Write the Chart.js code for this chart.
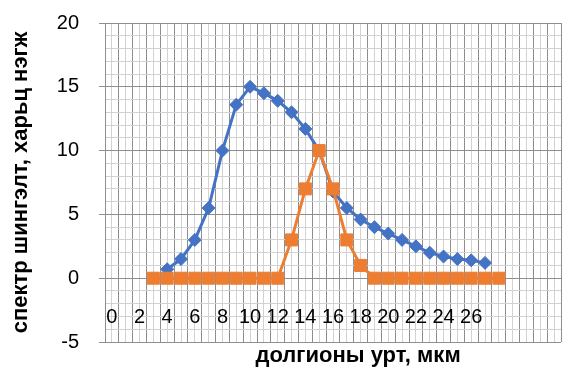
<!DOCTYPE html>
<html>
<head>
<meta charset="utf-8">
<script src="https://cdn.jsdelivr.net/npm/chart.js@4"></script>
<style>
  html, body { margin: 0; padding: 0; background: #fff; }
</style>
</head>
<body>
<canvas id="chart" width="562" height="368"></canvas>
<script>
// wavelength positions (category index) and values
const blueX = [4, 5, 6, 7, 8, 9, 10, 11, 12, 13, 14, 15, 16, 17, 18, 19, 20, 21, 22, 23, 24, 25, 26, 27];
const blueY = [0.7, 1.5, 3.0, 5.5, 10.0, 13.6, 15.0, 14.5, 13.9, 13.0, 11.7, 10.0, 6.8, 5.5, 4.6, 4.0, 3.5, 3.0, 2.5, 2.0, 1.7, 1.5, 1.4, 1.2];

const orangeX = [3, 4, 5, 6, 7, 8, 9, 10, 11, 12, 13, 14, 15, 16, 17, 18, 19, 20, 21, 22, 23, 24, 25, 26, 27, 28];
const orangeY = [0, 0, 0, 0, 0, 0, 0, 0, 0, 0, 3, 7, 10, 7, 3, 1, 0, 0, 0, 0, 0, 0, 0, 0, 0, 0];

const xTickLabels = ['0', '2', '4', '6', '8', '10', '12', '14', '16', '18', '20', '22', '24', '26'];
const yTickLabels = ['-5', '0', '5', '10', '15', '20'];

const xTitle = 'долгионы урт, мкм';
const yTitle = 'спектр шингэлт, харьц нэгж';

const FONT = "'Liberation Sans', Arial, sans-serif";
const DARK = '#8e8e8e';
const LIGHT = '#d2d2d2';

function toPoints(xs, ys) {
    return xs.map((x, i) => ({ x: x, y: ys[i] }));
}

// the x axis floats at y=0, but its label widths still eat room on the right;
// stretch the plot back out to the canvas edge
const stretchPlot = {
    id: 'stretchPlot',
    afterLayout(chart) {
        const right = chart.width - 1;
        const area = chart.chartArea;
        area.right = right;
        area.width = right - area.left;
        const x = chart.scales.x;
        x.right = right;
        x.width = right - x.left;
        x.configure();
    }
};

// x title sits under the plot, drawn by hand
const xTitlePlugin = {
    id: 'xTitle',
    afterDraw(chart) {
        const ctx = chart.ctx;
        const area = chart.chartArea;
        ctx.save();
        ctx.font = "bold 22px " + FONT;
        ctx.fillStyle = '#000';
        ctx.textAlign = 'center';
        ctx.textBaseline = 'middle';
        ctx.fillText(xTitle, area.left + (area.right - area.left) * 0.555, chart.height - 12);
        ctx.restore();
    }
};

new Chart(document.getElementById('chart'), {
    type: 'line',
    data: {
        datasets: [
            {
                data: toPoints(orangeX, orangeY),
                borderColor: '#ED7D31',
                backgroundColor: '#ED7D31',
                borderWidth: 3,
                pointStyle: 'rect',
                pointRadius: 8.5,
                pointBorderWidth: 1,
                tension: 0,
                order: 1
            },
            {
                data: toPoints(blueX, blueY),
                borderColor: '#4472C4',
                backgroundColor: '#4472C4',
                borderWidth: 3,
                pointStyle: 'rectRot',
                pointRadius: 6.5,
                pointBorderWidth: 1,
                tension: 0,
                order: 2
            }
        ]
    },
    options: {
        responsive: false,
        animation: false,
        layout: { padding: { top: 23, right: 1, bottom: 26, left: 0 } },
        plugins: {
            legend: { display: false },
            tooltip: { enabled: false }
        },
        scales: {
            x: {
                type: 'linear',
                position: { y: 0 },
                min: -0.5,
                max: 32.5,
                grid: {
                    tickLength: 27,
                    tickColor: 'rgba(0,0,0,0)',
                    color: ctx => Number.isInteger(ctx.tick.value) ? LIGHT : DARK
                },
                border: { color: DARK },
                ticks: {
                    stepSize: 0.5,
                    autoSkip: false,
                    maxRotation: 0,
                    padding: 0,
                    color: '#000',
                    font: { family: FONT, size: 20 },
                    callback: v => xTickLabels.includes(String(v)) ? String(v) : ''
                }
            },
            y: {
                min: -5,
                max: 20,
                grid: {
                    tickLength: 26,
                    tickBorderDash: [0, 20, 6, 0],
                    color: ctx => ctx.tick.value % 5 === 0 ? DARK : LIGHT,
                    tickColor: ctx => ctx.tick.value % 5 === 0 ? DARK : 'rgba(0,0,0,0)'
                },
                border: { color: DARK },
                ticks: {
                    stepSize: 1,
                    autoSkip: false,
                    padding: 0,
                    color: '#000',
                    font: { family: FONT, size: 20 },
                    callback: v => yTickLabels.includes(String(v)) ? String(v) : ''
                },
                title: {
                    display: true,
                    text: yTitle,
                    color: '#000',
                    padding: { top: 8, bottom: 0 },
                    font: { family: FONT, size: 22, weight: 'bold' }
                },
                afterFit: scale => { scale.width = 105; }
            }
        }
    },
    plugins: [stretchPlot, xTitlePlugin]
});
</script>
</body>
</html>
